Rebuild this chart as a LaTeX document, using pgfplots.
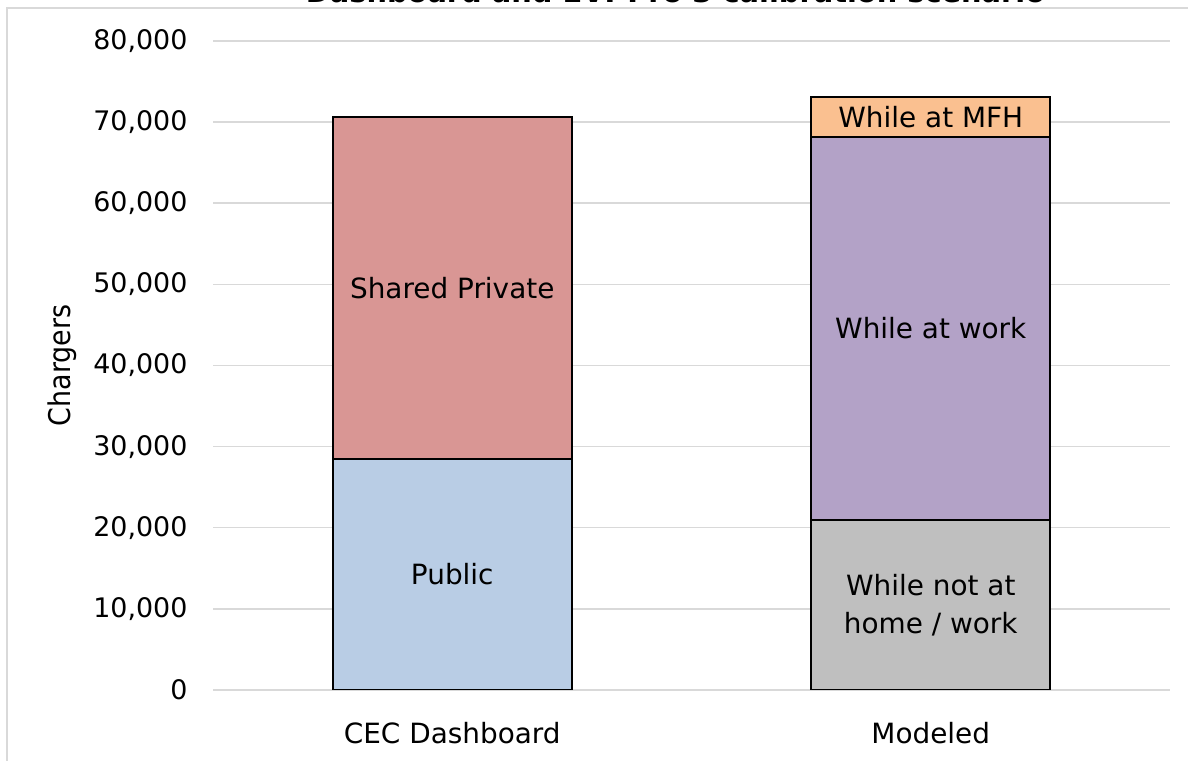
\documentclass[border=0pt]{standalone}
\usepackage{graphicx}
\usepackage{pgfplots}
\pgfplotsset{compat=1.18}
\usepackage{fontspec}
\setmainfont{DejaVu Sans}
\newfontfamily\condfont{DejaVu Sans Condensed}
\definecolor{pub}{HTML}{B9CDE5}
\definecolor{shp}{HTML}{D99694}
\definecolor{nhw}{HTML}{BFBFBF}
\definecolor{wrk}{HTML}{B3A2C7}
\definecolor{mfh}{HTML}{FAC090}
\definecolor{gridc}{HTML}{D9D9D9}
\newcommand{\lbl}{\fontsize{28}{38}\selectfont}
\newcommand{\tkl}{\fontsize{27}{32}\selectfont}
\begin{document}
\begin{tikzpicture}
\useasboundingbox (0,0) rectangle (1188bp,761bp);
\fill[white] (0,0) rectangle (1188bp,761bp);
\draw[gridc, line width=1.5bp] (7bp,0) -- (7bp,753bp) -- (1188bp,753bp);
\node[anchor=base, inner sep=0pt] at (675.5bp,758bp) {\resizebox{739bp}{!}{\bfseries Dashboard and EVI-Pro 3 calibration scenario}};
\begin{axis}[
  at={(213bp,71bp)}, anchor=south west,
  scale only axis, width=957bp, height=649bp,
  xmin=-0.5, xmax=1.5, ymin=0, ymax=80000,
  ybar stacked, bar width=239bp,
  axis line style={draw=none},
  major tick length=0pt,
  ymajorgrids, grid style={gridc, line width=1.5bp},
  xtick={0,1}, xticklabels={CEC Dashboard, Modeled},
  ytick={0,10000,...,80000},
  scaled y ticks=false,
  /pgf/number format/1000 sep={,},
  /pgf/number format/assume math mode=true,
  yticklabel style={font=\tkl, xshift=-22bp},
  xticklabel style={font=\lbl, yshift=-29bp},
  ylabel={Chargers},
  ylabel style={font=\condfont\fontsize{30}{36}\selectfont, at={(axis description cs:-0.1578,0.5)}, anchor=center},
  every axis plot/.append style={draw=black, line width=2bp},
]
\addplot[fill=pub] coordinates {(0,28500) (1,0)};
\addplot[fill=shp] coordinates {(0,42100) (1,0)};
\addplot[fill=nhw] coordinates {(0,0) (1,21000)};
\addplot[fill=wrk] coordinates {(0,0) (1,47200)};
\addplot[fill=mfh] coordinates {(0,0) (1,4950)};
\coordinate (Lpub) at (axis cs:0,14250);
\coordinate (Lshp) at (axis cs:0,49550);
\coordinate (Lnhw) at (axis cs:1,10500);
\coordinate (Lwrk) at (axis cs:1,44600);
\coordinate (Lmfh) at (axis cs:1,70675);
\end{axis}
\node[font=\lbl, text=black] at (Lpub) {Public};
\node[font=\lbl, text=black] at (Lshp) {Shared Private};
\node[font=\lbl, text=black, align=center] at (Lnhw) {While not at\\home / work};
\node[font=\lbl, text=black] at (Lwrk) {While at work};
\node[font=\lbl, text=black] at (Lmfh) {While at MFH};
\end{tikzpicture}
\end{document}
